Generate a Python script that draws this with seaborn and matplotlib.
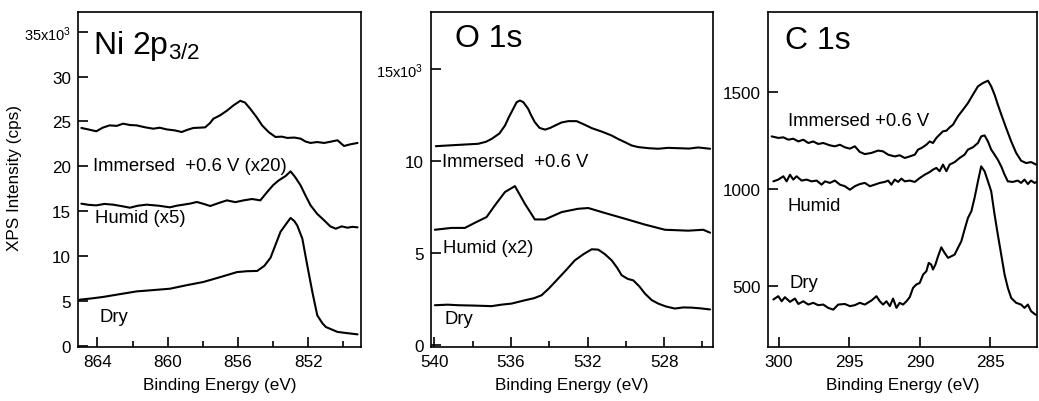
import matplotlib
matplotlib.use("Agg")
import matplotlib.pyplot as plt
import seaborn as sns
import pandas as pd
from matplotlib.ticker import FixedLocator, FixedFormatter, MultipleLocator

# ---------------- data ----------------
# Ni 2p3/2 panel, intensity in 10^3 cps
ni_imm_E = [864.91, 864.5, 864.06, 863.7, 863.3, 862.9, 862.54, 862.15, 861.77, 861.3, 860.82,
            860.45, 860.06, 859.6, 859.2, 858.9, 858.54, 858.2, 857.87, 857.6, 857.4, 857.0,
            856.63, 856.25, 855.87, 855.6, 855.3, 854.95, 854.63, 854.25, 853.87, 853.5, 853.2,
            852.8, 852.44, 852.15, 851.87, 851.5, 851.1, 850.7, 850.34, 849.97, 849.6, 849.2]
ni_imm_I = [24.27, 24.1, 23.9, 24.3, 24.56, 24.5, 24.75, 24.6, 24.56, 24.35, 24.19,
            24.3, 24.11, 24.0, 23.82, 24.05, 24.27, 24.3, 24.34, 24.8, 25.3, 25.7,
            26.2, 26.8, 27.3, 27.1, 26.4, 25.5, 24.56, 23.8, 23.27, 23.3, 23.16,
            23.2, 23.08, 22.75, 22.6, 22.7, 22.6, 22.75, 22.9, 22.26, 22.45, 22.6]
ni_hum_E = [864.91, 864.5, 864.06, 863.6, 863.1, 862.6, 862.15, 861.7, 861.2, 860.5, 859.87,
            859.5, 859.1, 858.7, 858.34, 857.95, 857.58, 857.1, 856.63, 856.15, 855.68, 855.2,
            854.73, 854.34, 854.0, 853.68, 853.3, 853.01, 852.75, 852.44, 852.15, 851.87, 851.5,
            851.1, 850.75, 850.44, 850.1, 849.77, 849.5, 849.2]
ni_hum_I = [15.83, 15.7, 15.64, 15.8, 15.72, 15.55, 15.38, 15.6, 15.72, 15.6, 15.42,
            15.6, 15.72, 15.85, 16.02, 15.8, 15.57, 15.9, 16.2, 16.0, 16.2, 16.35,
            16.2, 17.13, 17.9, 18.43, 18.9, 19.43, 18.8, 17.87, 16.7, 15.64, 14.7,
            13.97, 13.3, 13.04, 13.3, 13.15, 13.25, 13.19]
ni_dry_E = [865.0, 864.4, 863.68, 862.7, 861.77, 860.8, 859.87, 858.9, 857.97, 857.0, 856.06,
            855.5, 854.91, 854.5, 854.15, 853.58, 853.25, 853.01, 852.8, 852.63, 852.34, 852.06,
            851.77, 851.49, 851.2, 851.0, 850.34, 849.8, 849.2]
ni_dry_I = [5.13, 5.25, 5.43, 5.75, 6.05, 6.2, 6.35, 6.75, 7.1, 7.65, 8.2,
            8.3, 8.33, 8.9, 9.8, 12.7, 13.6, 14.24, 13.9, 13.4, 11.93, 8.95,
            5.98, 3.38, 2.5, 2.08, 1.53, 1.4, 1.26]

# O 1s panel, intensity in 10^3 cps
o_imm_E = [539.92, 538.75, 537.71, 537.3, 537.0, 536.6, 536.31, 536.1, 535.88, 535.7, 535.53,
           535.35, 535.1, 534.95, 534.75, 534.5, 534.22, 533.95, 533.7, 533.35, 533.0, 532.57,
           532.2, 531.78, 531.25, 530.74, 530.4, 530.05, 529.7, 529.35, 528.8, 528.31, 527.8,
           527.26, 526.7, 526.22, 525.6]
o_imm_I = [10.81, 10.88, 10.94, 11.05, 11.21, 11.5, 11.93, 12.4, 12.84, 13.2, 13.29,
           13.2, 12.84, 12.5, 12.11, 11.8, 11.71, 11.8, 11.93, 12.1, 12.17, 12.17,
           12.0, 11.79, 11.6, 11.39, 11.2, 11.03, 10.85, 10.76, 10.7, 10.67, 10.72,
           10.7, 10.68, 10.74, 10.67]
o_hum_E = [539.97, 539.1, 538.4, 537.88, 537.27, 536.84, 536.31, 535.79, 535.27, 534.75, 534.22,
           533.35, 532.49, 531.96, 531.09, 530.05, 529.0, 527.96, 526.74, 525.96, 525.6]
o_hum_I = [6.27, 6.37, 6.37, 6.65, 6.96, 7.59, 8.32, 8.64, 7.68, 6.83, 6.83,
           7.23, 7.41, 7.45, 7.18, 6.87, 6.55, 6.27, 6.22, 6.27, 6.11]
o_dry_E = [539.97, 539.3, 538.75, 537.9, 537.01, 536.5, 535.96, 535.27, 534.8, 534.4, 534.0,
           533.53, 533.1, 532.66, 532.2, 531.78, 531.44, 531.1, 530.74, 530.45, 530.22, 529.9,
           529.61, 529.3, 529.0, 528.65, 528.31, 527.9, 527.44, 527.0, 526.57, 526.1, 525.6]
o_dry_I = [2.17, 2.2, 2.17, 2.15, 2.12, 2.2, 2.26, 2.44, 2.55, 2.71, 3.1,
           3.62, 4.1, 4.61, 4.95, 5.21, 5.19, 4.95, 4.61, 4.2, 3.8, 3.6,
           3.52, 3.2, 2.8, 2.45, 2.26, 2.1, 1.99, 2.05, 2.04, 2.0, 1.94]

# C 1s panel, intensity in cps
c_imm_E = [300.52, 300.05, 299.69, 299.34, 298.99, 298.63, 298.28, 297.92, 297.57, 297.22, 296.86,
           296.39, 296.04, 295.68, 295.33, 294.97, 294.62, 294.27, 293.91, 293.44, 292.97, 292.62,
           292.26, 291.79, 291.44, 291.08, 290.73, 290.37, 290.14, 289.90, 289.55, 289.31, 289.08,
           288.84, 288.61, 288.37, 288.13, 287.90, 287.66, 287.31, 286.95, 286.60, 286.25, 285.89,
           285.54, 285.18, 284.95, 284.71, 284.48, 284.19, 283.89, 283.53, 283.18, 282.83, 282.47,
           282.12, 281.76, 281.60]
c_imm_I = [1270, 1262, 1265, 1253, 1258, 1244, 1253, 1236, 1244, 1231, 1236,
           1224, 1219, 1227, 1214, 1207, 1219, 1190, 1179, 1185, 1197, 1193,
           1176, 1167, 1173, 1159, 1167, 1176, 1202, 1210, 1227, 1244, 1236,
           1262, 1279, 1296, 1299, 1316, 1330, 1373, 1407, 1441, 1484, 1527,
           1544, 1556, 1527, 1484, 1433, 1373, 1313, 1244, 1185, 1145, 1133,
           1138, 1125, 1128]
c_hum_E = [300.40, 300.05, 299.69, 299.46, 299.22, 298.99, 298.75, 298.40, 298.04, 297.69, 297.33,
           296.98, 296.74, 296.39, 296.04, 295.68, 295.33, 294.97, 294.62, 294.27, 293.91, 293.56,
           293.21, 292.85, 292.50, 292.26, 292.03, 291.79, 291.55, 291.32, 291.08, 290.73, 290.37,
           290.02, 289.67, 289.31, 289.08, 288.84, 288.61, 288.37, 288.13, 287.90, 287.54, 287.19,
           286.84, 286.60, 286.25, 285.89, 285.66, 285.42, 285.18, 284.95, 284.71, 284.48, 284.24,
           284.00, 283.77, 283.42, 283.06, 282.83, 282.59, 282.35, 282.12, 281.88, 281.60]
c_hum_I = [1039, 1048, 1065, 1039, 1073, 1048, 1065, 1043, 1048, 1039, 1043,
           1022, 1039, 1031, 1043, 1022, 1014, 996, 1014, 1025, 1031, 1014,
           1022, 1031, 1036, 1043, 1022, 1048, 1036, 1053, 1039, 1043, 1036,
           1056, 1073, 1087, 1099, 1108, 1091, 1125, 1091, 1125, 1138, 1159,
           1176, 1202, 1214, 1236, 1270, 1275, 1244, 1202, 1176, 1150, 1116,
           1073, 1039, 1036, 1043, 1031, 1048, 1025, 1043, 1031, 1039]
c_dry_E = [300.40, 300.05, 299.81, 299.58, 299.22, 298.87, 298.63, 298.28, 297.92, 297.57, 297.22,
           296.86, 296.51, 296.15, 295.80, 295.33, 294.97, 294.62, 294.27, 293.91, 293.44, 293.09,
           292.85, 292.62, 292.38, 292.14, 291.91, 291.67, 291.44, 291.20, 290.96, 290.73, 290.49,
           290.26, 290.02, 289.78, 289.55, 289.38, 289.20, 289.08, 288.91, 288.72, 288.49, 288.25,
           288.01, 287.78, 287.54, 287.31, 287.07, 286.84, 286.60, 286.36, 286.13, 285.89, 285.66,
           285.42, 285.18, 284.95, 284.71, 284.48, 284.24, 284.00, 283.77, 283.53, 283.18, 282.83,
           282.59, 282.35, 282.12, 281.88, 281.60]
c_dry_I = [432, 449, 423, 444, 420, 437, 409, 423, 406, 415, 403,
           406, 389, 380, 406, 409, 398, 403, 415, 406, 427, 449,
           423, 406, 423, 398, 437, 389, 415, 406, 423, 444, 492,
           509, 517, 560, 577, 620, 611, 586, 611, 654, 700, 671,
           646, 654, 663, 697, 731, 791, 851, 885, 954, 1039, 1116,
           1091, 1039, 988, 868, 765, 663, 560, 492, 440, 415, 406,
           389, 406, 372, 358, 346]

panel_titles = ["Ni 2p$_{3/2}$", "O 1s", "C 1s"]
ni_labels = ["Immersed  +0.6 V (x20)", "Humid (x5)", "Dry"]
o_labels = ["Immersed  +0.6 V", "Humid (x2)", "Dry"]
c_labels = ["Immersed +0.6 V", "Humid", "Dry"]
ni_yticks = [0, 5, 10, 15, 20, 25, 30, 35]
ni_yticklabels = ["0", "5", "10", "15", "20", "25", "30", "35x10$^3$"]
o_yticks = [0, 5, 10, 15]
o_yticklabels = ["0", "5", "10", "15x10$^3$"]
c_yticks = [500, 1000, 1500]
c_yticklabels = ["500", "1000", "1500"]
ni_xticks = [864, 860, 856, 852]
o_xticks = [540, 536, 532, 528]
c_xticks = [300, 295, 290, 285]

# ---------------- style ----------------
sns.set_style("ticks")
plt.rcParams["font.family"] = ["Liberation Sans", "DejaVu Sans"]
plt.rcParams["mathtext.fontset"] = "custom"
plt.rcParams["mathtext.rm"] = "Liberation Sans"
plt.rcParams["mathtext.it"] = "Liberation Sans"
plt.rcParams["text.color"] = "black"
plt.rcParams["axes.labelcolor"] = "black"
plt.rcParams["xtick.color"] = "black"
plt.rcParams["ytick.color"] = "black"
plt.rcParams["axes.edgecolor"] = "black"

fig = plt.figure(figsize=(10.39, 4.02), dpi=100)
axes = [fig.add_axes([0.0751, 0.1343, 0.2724, 0.8334]),
        fig.add_axes([0.4145, 0.1343, 0.2717, 0.8334]),
        fig.add_axes([0.7389, 0.1343, 0.2592, 0.8334])]

panels = [
    (axes[0], [(ni_imm_E, ni_imm_I), (ni_hum_E, ni_hum_I), (ni_dry_E, ni_dry_I)],
     (865.1, 849.0), (-0.15, 37.2), ni_xticks, 2, ni_yticks, ni_yticklabels),
    (axes[1], [(o_imm_E, o_imm_I), (o_hum_E, o_hum_I), (o_dry_E, o_dry_I)],
     (540.19, 525.45), (-0.1, 18.1), o_xticks, 2, o_yticks, o_yticklabels),
    (axes[2], [(c_imm_E, c_imm_I), (c_hum_E, c_hum_I), (c_dry_E, c_dry_I)],
     (300.8, 281.7), (188, 1909), c_xticks, None, c_yticks, c_yticklabels),
]

for ax, curves, xl, yl, xt, xminor, yt, ytl in panels:
    for E, I in curves:
        df = pd.DataFrame({"E": E, "I": I})
        sns.lineplot(data=df, x="E", y="I", ax=ax, color="black", linewidth=1.5,
                     estimator=None, sort=False)
    ax.set_xlim(*xl)
    ax.set_ylim(*yl)
    ax.xaxis.set_major_locator(FixedLocator(xt))
    if xminor:
        ax.xaxis.set_minor_locator(MultipleLocator(xminor))
    ax.yaxis.set_major_locator(FixedLocator(yt))
    ax.yaxis.set_major_formatter(FixedFormatter(ytl))
    ax.tick_params(axis="both", which="major", direction="in", length=7, width=1.2,
                   labelsize=12.3, color="black", labelcolor="black", pad=5)
    ax.tick_params(axis="x", which="minor", direction="in", length=4, width=1.2, color="black")
    ax.tick_params(axis="y", which="minor", left=False)
    for s in ax.spines.values():
        s.set_visible(True)
        s.set_linewidth(1.2)
        s.set_color("black")
    ax.set_xlabel("Binding Energy (eV)", fontsize=12.3, labelpad=6, color="black")
    ax.set_ylabel("")
    if ytl[-1].endswith("$"):
        ax.yaxis.get_majorticklabels()[-1].set_fontsize(10.5)

axes[0].set_ylabel("XPS Intensity (cps)", fontsize=12.3, color="black")
axes[0].yaxis.set_label_coords(-0.198, 0.507)

# panel titles
axes[0].text(864.27, 32.6, panel_titles[0], fontsize=23, ha="left", va="baseline", color="black")
axes[1].text(538.9, 16.27, panel_titles[1], fontsize=23, ha="left", va="baseline", color="black")
axes[2].text(299.58, 1724, panel_titles[2], fontsize=23, ha="left", va="baseline", color="black")

# curve labels
for ax, labs, xs, ys in [
    (axes[0], ni_labels, [864.27, 864.15, 863.9], [19.6, 13.8, 2.7]),
    (axes[1], o_labels, [539.62, 539.57, 539.48], [9.76, 5.06, 1.18]),
    (axes[2], c_labels, [299.38, 299.38, 299.27], [1330, 894, 495]),
]:
    for lab, x, y in zip(labs, xs, ys):
        ax.text(x, y, lab, fontsize=13.3, ha="left", va="baseline", color="black")

fig.savefig("out.png", dpi=100)
